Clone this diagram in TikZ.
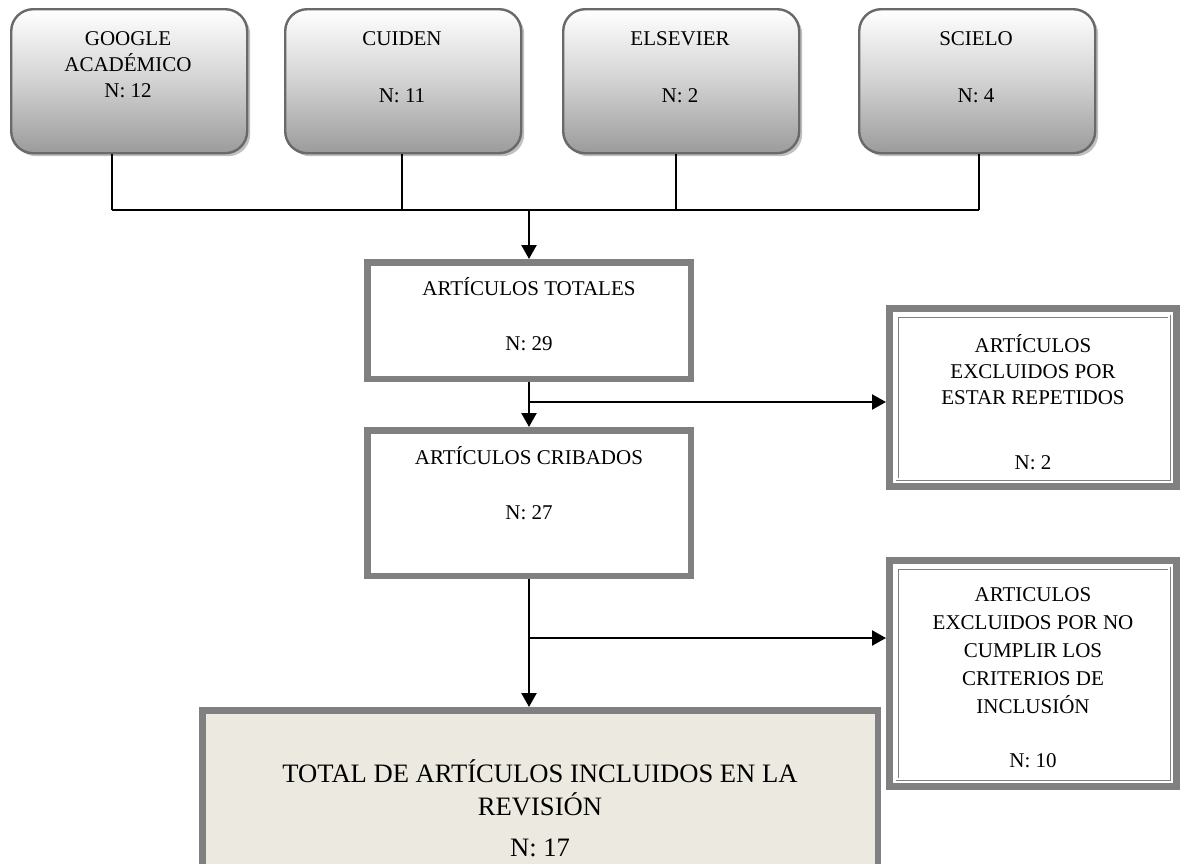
\documentclass[tikz,border=0pt]{standalone}
\usepackage{fontspec}
\setmainfont{Liberation Serif}
\usetikzlibrary{arrows.meta,shadows}
\definecolor{boxgray}{RGB}{128,128,128}
\definecolor{edgegray}{RGB}{105,105,105}
\definecolor{shadegray}{RGB}{192,192,192}
\definecolor{beige}{RGB}{236,234,224}
\definecolor{srcbot}{RGB}{155,155,155}
\definecolor{srcmid}{RGB}{210,210,210}
\tikzset{
  srcbox/.style={draw=edgegray, line width=2.4pt, rounded corners=22pt,
    top color=white, bottom color=srcbot, middle color=srcmid,
    general shadow={fill=shadegray, shadow xshift=3pt, shadow yshift=-3pt},
    minimum width=236pt, minimum height=144pt, inner sep=0pt, anchor=north west},
  mainbox/.style={draw=boxgray, line width=6.5pt, fill=white, inner sep=0pt,
    minimum width=323.5pt, anchor=north west},
  exbox/.style={draw=boxgray, line width=7pt, fill=white, inner sep=0pt,
    minimum width=287pt, anchor=north west},
  inner line/.style={draw=boxgray, line width=0.9pt, double=white, double distance=1.2pt},
  txt/.style={font=\fontsize{21pt}{26pt}\selectfont, align=center, anchor=base, inner sep=0pt},
  bigtxt/.style={font=\fontsize{26.6pt}{33pt}\selectfont, align=center, anchor=base, inner sep=0pt},
  conn/.style={line width=1.6pt, black},
  arr/.style={line width=2.2pt, black, -{Triangle[length=14pt,width=15pt]}}
}
\begin{document}
\begin{tikzpicture}[x=1pt,y=-1pt]
\clip (0,0) rectangle (1181,863);
\fill[white] (0,0) rectangle (1181,863);
% source boxes
\node[srcbox] (s1) at (10,8) {};
\node[srcbox] (s2) at (284,8) {};
\node[srcbox] (s3) at (562,8) {};
\node[srcbox] (s4) at (858,8) {};
\node[txt] (t1) at (128,97) {GOOGLE\\ACADÉMICO\\N: 12};
\node[txt] (t2) at (402,102) {CUIDEN\\[31pt]N: 11};
\node[txt] (t3) at (680,102) {ELSEVIER\\[31pt]N: 2};
\node[txt] (t4) at (976,102) {SCIELO\\[31pt]N: 4};
% junctions
\coordinate (j1) at (112,210);
\coordinate (j2) at (402,210);
\coordinate (j3) at (676,210);
\coordinate (j4) at (979,210);
\coordinate (j0) at (529,210);
\draw[conn] (s1.south -| j1) -- (j1);
\draw[conn] (s2.south -| j2) -- (j2);
\draw[conn] (s3.south -| j3) -- (j3);
\draw[conn] (s4.south -| j4) -- (j4);
\draw[conn] (j1) -- (j4);
% main boxes
\node[mainbox, minimum height=116.5pt] (tot) at (364,259) {};
\node[txt] (ttot) at (529,350) {ARTÍCULOS TOTALES\\[29pt]N: 29};
\node[mainbox, minimum height=145.5pt] (crib) at (364,427) {};
\node[txt] (tcrib) at (529,519) {ARTÍCULOS CRIBADOS\\[29pt]N: 27};
\node[draw=boxgray, line width=6.5pt, fill=beige, inner sep=0pt, minimum width=675.5pt,
      minimum height=220pt, anchor=north west] (fin) at (199,707) {};
\node[bigtxt] (tfin) at (540,856) {TOTAL DE ARTÍCULOS INCLUIDOS EN LA\\REVISIÓN\\[8pt]N: 17};
% excluded boxes
\node[exbox, minimum height=178pt] (r1) at (886,305) {};
\draw[inner line] ([shift={(11,11)}]r1.north west) rectangle ([shift={(-11,-11)}]r1.south east);
\node[txt] (tr1) at (1033,469) {ARTÍCULOS\\EXCLUIDOS POR\\ESTAR REPETIDOS\\[39pt]N: 2};
\node[exbox, minimum height=226pt] (r2) at (886,557) {};
\draw[inner line] ([shift={(11,11)}]r2.north west) rectangle ([shift={(-11,-11)}]r2.south east);
\node[txt, font=\fontsize{21pt}{28pt}\selectfont] (tr2) at (1033,767) {ARTICULOS\\EXCLUIDOS POR NO\\CUMPLIR LOS\\CRITERIOS DE\\INCLUSIÓN\\[26pt]N: 10};
% flow
\coordinate (b1) at (529,402);
\coordinate (b2) at (529,638);
\draw[arr] (j0) -- (tot.north);
\draw[arr] (tot.south) -- (crib.north);
\draw[arr] (b1) -- (r1.west |- b1);
\draw[arr] (crib.south) -- (fin.north -| crib.south);
\draw[arr] (b2) -- (r2.west |- b2);
\end{tikzpicture}
\end{document}
